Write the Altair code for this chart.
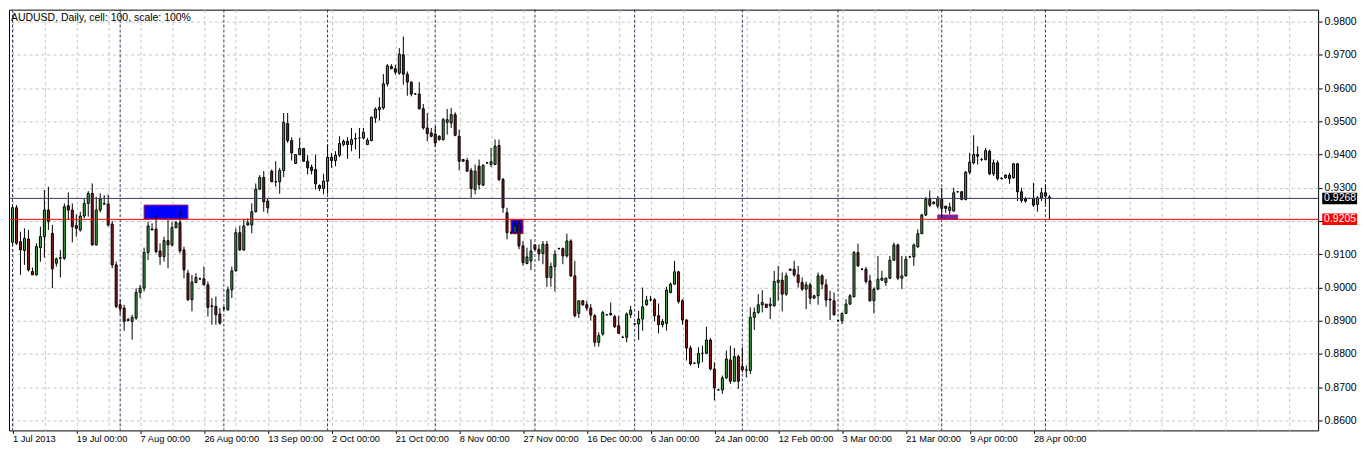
import altair as alt
import pandas as pd

# ---------------- data (daily bars, incl. Sunday bars) ----------------
opens = [
    0.9136, 0.9240, 0.9138, 0.9111, 0.9146, 0.9048, 0.9038, 0.9120, 0.9153, 0.9233,
    0.9163, 0.9073, 0.9088, 0.9088, 0.9246, 0.9233, 0.9186, 0.9173, 0.9215, 0.9253,
    0.9283, 0.9128, 0.9233, 0.9251, 0.9251, 0.9191, 0.9068, 0.8948, 0.8938, 0.8903,
    0.8898, 0.8908, 0.8985, 0.8998, 0.9105, 0.9176, 0.9176, 0.9110, 0.9093, 0.9141,
    0.9128, 0.9180, 0.9195, 0.9113, 0.9043, 0.8963, 0.9015, 0.9026, 0.9026, 0.9008,
    0.8945, 0.8943, 0.8920, 0.8938, 0.8933, 0.8993, 0.9050, 0.9165, 0.9113, 0.9188,
    0.9188, 0.9228, 0.9296, 0.9331, 0.9260, 0.9350, 0.9318, 0.9318, 0.9352, 0.9493,
    0.9442, 0.9373, 0.9400, 0.9418, 0.9380, 0.9362, 0.9355, 0.9307, 0.9298, 0.9320,
    0.9392, 0.9382, 0.9398, 0.9430, 0.9440, 0.9430, 0.9447, 0.9450, 0.9450, 0.9430,
    0.9442, 0.9510, 0.9535, 0.9540, 0.9613, 0.9665, 0.9658, 0.9645, 0.9700, 0.9642,
    0.9618, 0.9582, 0.9582, 0.9538, 0.9480, 0.9465, 0.9462, 0.9455, 0.9445, 0.9497,
    0.9495, 0.9520, 0.9455, 0.9385, 0.9382, 0.9352, 0.9295, 0.9365, 0.9308, 0.9375,
    0.9370, 0.9370, 0.9427, 0.9325, 0.9225, 0.9165, 0.9165, 0.9195, 0.9125, 0.9072,
    0.9080, 0.9128, 0.9115, 0.9102, 0.9130, 0.9030, 0.9063, 0.9117, 0.9117, 0.9095,
    0.9140, 0.9035, 0.8922, 0.8960, 0.8948, 0.8938, 0.8915, 0.8835, 0.8860, 0.8918,
    0.8922, 0.8912, 0.8885, 0.8850, 0.8850, 0.8918, 0.8890, 0.8890, 0.8905, 0.8948,
    0.8963, 0.8963, 0.8915, 0.8888, 0.8892, 0.8985, 0.9010, 0.9047, 0.8960, 0.8902,
    0.8818, 0.8772, 0.8772, 0.8802, 0.8802, 0.8842, 0.8755, 0.8692, 0.8692, 0.8728,
    0.8782, 0.8718, 0.8792, 0.8762, 0.8752, 0.8750, 0.8910, 0.8925, 0.8948, 0.8950,
    0.8945, 0.8945, 0.9015, 0.9022, 0.8980, 0.9052, 0.9055, 0.9038, 0.9015, 0.8995,
    0.9008, 0.8968, 0.8975, 0.9035, 0.9008, 0.8962, 0.8960, 0.8900, 0.8900, 0.8922,
    0.8950, 0.8972, 0.9105, 0.9055, 0.9055, 0.9020, 0.8960, 0.8995, 0.9022, 0.9015,
    0.9028, 0.9082, 0.9128, 0.9028, 0.9035, 0.9092, 0.9092, 0.9122, 0.9162, 0.9218,
    0.9265, 0.9252, 0.9245, 0.9265, 0.9245, 0.9232, 0.9230, 0.9288, 0.9288, 0.9265,
    0.9347, 0.9375, 0.9400, 0.9385, 0.9385, 0.9410, 0.9342, 0.9375, 0.9328, 0.9330,
    0.9338, 0.9330, 0.9372, 0.9288, 0.9268, 0.9268, 0.9268, 0.9250, 0.9270, 0.9285,
    0.9272,
]
highs = [
    0.9248, 0.9248, 0.9168, 0.9178, 0.9173, 0.9060, 0.9133, 0.9183, 0.9293, 0.9303,
    0.9188, 0.9090, 0.9113, 0.9253, 0.9286, 0.9253, 0.9220, 0.9228, 0.9268, 0.9290,
    0.9313, 0.9273, 0.9283, 0.9278, 0.9280, 0.9200, 0.9078, 0.8963, 0.8948, 0.8908,
    0.8918, 0.8998, 0.9008, 0.9120, 0.9198, 0.9193, 0.9216, 0.9133, 0.9153, 0.9203,
    0.9198, 0.9200, 0.9233, 0.9123, 0.9053, 0.9038, 0.9043, 0.9030, 0.9063, 0.9018,
    0.8968, 0.8973, 0.8938, 0.8943, 0.9003, 0.9063, 0.9178, 0.9186, 0.9206, 0.9208,
    0.9253, 0.9313, 0.9338, 0.9350, 0.9268, 0.9355, 0.9380, 0.9360, 0.9525, 0.9525,
    0.9452, 0.9400, 0.9450, 0.9420, 0.9398, 0.9370, 0.9400, 0.9310, 0.9342, 0.9430,
    0.9405, 0.9410, 0.9455, 0.9445, 0.9452, 0.9480, 0.9465, 0.9480, 0.9480, 0.9450,
    0.9515, 0.9542, 0.9572, 0.9642, 0.9672, 0.9672, 0.9670, 0.9720, 0.9755, 0.9650,
    0.9620, 0.9585, 0.9618, 0.9552, 0.9525, 0.9480, 0.9485, 0.9458, 0.9510, 0.9537,
    0.9540, 0.9527, 0.9475, 0.9387, 0.9390, 0.9360, 0.9370, 0.9385, 0.9370, 0.9378,
    0.9420, 0.9445, 0.9445, 0.9330, 0.9240, 0.9170, 0.9200, 0.9202, 0.9140, 0.9120,
    0.9145, 0.9130, 0.9130, 0.9140, 0.9140, 0.9075, 0.9112, 0.9120, 0.9120, 0.9162,
    0.9145, 0.9080, 0.8960, 0.8962, 0.8960, 0.8950, 0.8920, 0.8865, 0.8930, 0.8920,
    0.8955, 0.8918, 0.8915, 0.8855, 0.8925, 0.8945, 0.8893, 0.8930, 0.9000, 0.8975,
    0.8975, 0.8968, 0.8952, 0.8905, 0.9002, 0.9015, 0.9080, 0.9050, 0.8965, 0.8905,
    0.8825, 0.8775, 0.8820, 0.8825, 0.8882, 0.8848, 0.8775, 0.8695, 0.8735, 0.8810,
    0.8825, 0.8818, 0.8798, 0.8820, 0.8765, 0.8940, 0.8940, 0.8980, 0.8992, 0.8950,
    0.8970, 0.9050, 0.9065, 0.9045, 0.9045, 0.9057, 0.9080, 0.9065, 0.9030, 0.9018,
    0.9015, 0.8978, 0.9045, 0.9040, 0.9025, 0.8990, 0.8985, 0.8902, 0.8925, 0.8965,
    0.8980, 0.9110, 0.9132, 0.9058, 0.9062, 0.9038, 0.9000, 0.9095, 0.9050, 0.9030,
    0.9095, 0.9135, 0.9132, 0.9095, 0.9095, 0.9095, 0.9132, 0.9175, 0.9222, 0.9272,
    0.9292, 0.9260, 0.9275, 0.9300, 0.9245, 0.9255, 0.9300, 0.9290, 0.9290, 0.9350,
    0.9405, 0.9458, 0.9425, 0.9390, 0.9420, 0.9415, 0.9385, 0.9382, 0.9332, 0.9340,
    0.9345, 0.9375, 0.9375, 0.9300, 0.9272, 0.9270, 0.9315, 0.9275, 0.9300, 0.9310,
    0.9278,
]
lows = [
    0.9130, 0.9128, 0.9038, 0.9068, 0.9048, 0.9038, 0.9036, 0.9078, 0.9090, 0.9173,
    0.8998, 0.9063, 0.9030, 0.9083, 0.9203, 0.9136, 0.9153, 0.9168, 0.9208, 0.9213,
    0.9126, 0.9126, 0.9226, 0.9248, 0.9183, 0.9058, 0.8938, 0.8918, 0.8870, 0.8898,
    0.8843, 0.8903, 0.8968, 0.8988, 0.9083, 0.9173, 0.9103, 0.9068, 0.9078, 0.9058,
    0.9123, 0.9178, 0.9103, 0.9028, 0.8960, 0.8928, 0.9013, 0.9023, 0.9006, 0.8913,
    0.8888, 0.8888, 0.8888, 0.8930, 0.8930, 0.8968, 0.9048, 0.9110, 0.9110, 0.9186,
    0.9163, 0.9226, 0.9293, 0.9228, 0.9223, 0.9318, 0.9303, 0.9282, 0.9332, 0.9435,
    0.9382, 0.9373, 0.9398, 0.9378, 0.9340, 0.9340, 0.9295, 0.9290, 0.9280, 0.9282,
    0.9360, 0.9365, 0.9392, 0.9425, 0.9387, 0.9410, 0.9415, 0.9388, 0.9445, 0.9430,
    0.9440, 0.9495, 0.9502, 0.9535, 0.9605, 0.9658, 0.9640, 0.9640, 0.9610, 0.9577,
    0.9575, 0.9580, 0.9535, 0.9475, 0.9440, 0.9452, 0.9423, 0.9442, 0.9442, 0.9460,
    0.9480, 0.9455, 0.9352, 0.9378, 0.9348, 0.9270, 0.9280, 0.9295, 0.9305, 0.9372,
    0.9362, 0.9368, 0.9320, 0.9225, 0.9145, 0.9160, 0.9160, 0.9115, 0.9065, 0.9070,
    0.9052, 0.9112, 0.9080, 0.9070, 0.9002, 0.9002, 0.8988, 0.9114, 0.9070, 0.9090,
    0.9032, 0.8910, 0.8908, 0.8945, 0.8930, 0.8900, 0.8822, 0.8822, 0.8855, 0.8916,
    0.8915, 0.8878, 0.8860, 0.8848, 0.8835, 0.8908, 0.8887, 0.8842, 0.8870, 0.8945,
    0.8958, 0.8898, 0.8862, 0.8880, 0.8870, 0.8982, 0.9008, 0.8952, 0.8888, 0.8780,
    0.8765, 0.8770, 0.8758, 0.8775, 0.8800, 0.8750, 0.8660, 0.8690, 0.8680, 0.8725,
    0.8710, 0.8715, 0.8695, 0.8745, 0.8730, 0.8740, 0.8872, 0.8920, 0.8925, 0.8940,
    0.8905, 0.8942, 0.8960, 0.8928, 0.8975, 0.9050, 0.9032, 0.9000, 0.8990, 0.8935,
    0.8950, 0.8965, 0.8948, 0.8995, 0.8942, 0.8902, 0.8915, 0.8898, 0.8890, 0.8920,
    0.8948, 0.8970, 0.9062, 0.9052, 0.9012, 0.8957, 0.8922, 0.8992, 0.9020, 0.9005,
    0.9025, 0.9080, 0.9022, 0.8995, 0.9033, 0.9090, 0.9065, 0.9120, 0.9160, 0.9215,
    0.9242, 0.9250, 0.9238, 0.9210, 0.9225, 0.9220, 0.9228, 0.9286, 0.9262, 0.9262,
    0.9340, 0.9370, 0.9370, 0.9380, 0.9382, 0.9338, 0.9335, 0.9322, 0.9325, 0.9328,
    0.9312, 0.9328, 0.9260, 0.9255, 0.9255, 0.9266, 0.9242, 0.9228, 0.9260, 0.9250,
    0.9205,
]
closes = [
    0.9240, 0.9133, 0.9113, 0.9148, 0.9053, 0.9038, 0.9123, 0.9153, 0.9233, 0.9198,
    0.9056, 0.9086, 0.9090, 0.9243, 0.9233, 0.9183, 0.9178, 0.9215, 0.9253, 0.9283,
    0.9128, 0.9233, 0.9266, 0.9253, 0.9188, 0.9068, 0.8943, 0.8936, 0.8898, 0.8901,
    0.8910, 0.8985, 0.8998, 0.9105, 0.9185, 0.9173, 0.9108, 0.9093, 0.9141, 0.9128,
    0.9180, 0.9195, 0.9110, 0.9053, 0.8963, 0.9016, 0.9030, 0.9026, 0.9008, 0.8940,
    0.8943, 0.8918, 0.8893, 0.8938, 0.8993, 0.9050, 0.9165, 0.9113, 0.9185, 0.9195,
    0.9228, 0.9296, 0.9331, 0.9258, 0.9240, 0.9318, 0.9318, 0.9352, 0.9497, 0.9442,
    0.9405, 0.9400, 0.9418, 0.9380, 0.9360, 0.9352, 0.9312, 0.9298, 0.9320, 0.9392,
    0.9382, 0.9398, 0.9433, 0.9440, 0.9430, 0.9445, 0.9448, 0.9450, 0.9467, 0.9443,
    0.9512, 0.9537, 0.9542, 0.9613, 0.9667, 0.9658, 0.9648, 0.9702, 0.9642, 0.9618,
    0.9582, 0.9582, 0.9538, 0.9480, 0.9463, 0.9455, 0.9435, 0.9445, 0.9505, 0.9505,
    0.9520, 0.9458, 0.9380, 0.9380, 0.9350, 0.9298, 0.9350, 0.9310, 0.9368, 0.9375,
    0.9378, 0.9425, 0.9325, 0.9240, 0.9165, 0.9165, 0.9185, 0.9125, 0.9075, 0.9092,
    0.9110, 0.9115, 0.9102, 0.9130, 0.9030, 0.9063, 0.9100, 0.9117, 0.9095, 0.9140,
    0.9035, 0.8915, 0.8960, 0.8948, 0.8938, 0.8917, 0.8835, 0.8855, 0.8925, 0.8918,
    0.8918, 0.8882, 0.8862, 0.8850, 0.8920, 0.8932, 0.8890, 0.8905, 0.8942, 0.8962,
    0.8963, 0.8915, 0.8888, 0.8898, 0.8992, 0.9010, 0.9047, 0.8958, 0.8902, 0.8818,
    0.8770, 0.8772, 0.8802, 0.8802, 0.8842, 0.8755, 0.8698, 0.8692, 0.8728, 0.8785,
    0.8718, 0.8792, 0.8718, 0.8752, 0.8752, 0.8910, 0.8925, 0.8948, 0.8955, 0.8940,
    0.8950, 0.9018, 0.9022, 0.8980, 0.9035, 0.9055, 0.9038, 0.9015, 0.8995, 0.9008,
    0.8968, 0.8975, 0.9035, 0.9010, 0.8962, 0.8965, 0.8918, 0.8900, 0.8922, 0.8950,
    0.8975, 0.9105, 0.9065, 0.9055, 0.9018, 0.8960, 0.8995, 0.9025, 0.9028, 0.9028,
    0.9082, 0.9128, 0.9028, 0.9035, 0.9085, 0.9092, 0.9128, 0.9162, 0.9218, 0.9265,
    0.9248, 0.9257, 0.9268, 0.9238, 0.9238, 0.9242, 0.9285, 0.9288, 0.9265, 0.9347,
    0.9377, 0.9400, 0.9395, 0.9385, 0.9412, 0.9342, 0.9375, 0.9328, 0.9328, 0.9338,
    0.9328, 0.9372, 0.9288, 0.9262, 0.9260, 0.9268, 0.9248, 0.9270, 0.9285, 0.9275,
    0.9268,
]

x_tick_labels = [
    "1 Jul 2013", "19 Jul 00:00", "7 Aug 00:00", "26 Aug 00:00", "13 Sep 00:00",
    "2 Oct 00:00", "21 Oct 00:00", "8 Nov 00:00", "27 Nov 00:00", "16 Dec 00:00",
    "6 Jan 00:00", "24 Jan 00:00", "12 Feb 00:00", "3 Mar 00:00", "21 Mar 00:00",
    "9 Apr 00:00", "28 Apr 00:00",
]
y_ticks = [0.86, 0.87, 0.88, 0.89, 0.90, 0.91, 0.92, 0.93, 0.94, 0.95, 0.96, 0.97, 0.98]
month_separator_bars = [0, 27, 53, 79, 106, 131, 156, 183, 207, 233, 259]

zone_names = ["Aug zone", "Nov zone", "Mar zone"]
zone_start = [33, 125, 232]
zone_end = [44, 128, 237]
zone_low = [0.9206, 0.9162, 0.9205]
zone_high = [0.9248, 0.9203, 0.9218]

level_names = ["bid", "support"]
level_prices = [0.9268, 0.9205]
level_labels = ["0.9268", "0.9205"]

chart_title = "AUDUSD, Daily, cell: 100, scale: 100%"

# ---------------- tables ----------------
n = len(opens)
bars = pd.DataFrame({
    "i": list(range(n)),
    "o": opens,
    "c": closes,
    "h": [max(a, b, c) for a, b, c in zip(highs, opens, closes)],
    "l": [min(a, b, c) for a, b, c in zip(lows, opens, closes)],
})

zones = pd.DataFrame({"zone": zone_names, "x1": zone_start, "x2": zone_end,
                      "lo": zone_low, "hi": zone_high})
seps = pd.DataFrame({"bar": month_separator_bars})
levels = pd.DataFrame({"name": level_names, "price": level_prices, "label": level_labels})
title_df = pd.DataFrame({"t": [chart_title]})

# ---------------- scales / axes ----------------
W, H = 1313, 422
xscale = alt.Scale(domain=[-0.875, 327.375], nice=False, zero=False, padding=0)
yscale = alt.Scale(domain=[0.857, 0.9836], nice=False, zero=False, padding=0)

GRID = "#c4c4c4"
label_array = "[" + ",".join("'" + s + "'" for s in x_tick_labels) + "]"
x_label_expr = (f"(datum.value % 16 == 0 && datum.value / 16 < {len(x_tick_labels)}) ? "
                f"{label_array}[datum.value / 16] : ''")

xaxis = alt.Axis(
    values=list(range(0, 328, 8)), labelExpr=x_label_expr, title=None,
    grid=True, gridColor=GRID, gridDash=[3, 3], gridWidth=1,
    domain=False, ticks=True, tickSize=3, tickColor="black",
    tickOpacity={"condition": {"test": f"datum.value % 16 != 0 || datum.value / 16 >= {len(x_tick_labels)}",
                               "value": 0}, "value": 1},
    labelAlign="left", labelBaseline="top", labelPadding=1, labelOffset=0,
    labelFont="Liberation Sans", labelFontSize=9.3, labelColor="black",
    labelOverlap=False, labelFlush=False,
)
yaxis = alt.Axis(
    orient="right", values=y_ticks, format=".4f", title=None,
    grid=True, gridColor=GRID, gridDash=[3, 3], gridWidth=1,
    domain=False, ticks=True, tickSize=4, tickColor="black",
    labelFont="Liberation Sans", labelFontSize=10.5, labelColor="black",
    labelPadding=2, labelOverlap=False, labelFlush=False,
)


def X(field):
    return alt.X(field, type="quantitative", scale=xscale, axis=xaxis)


def Y(field):
    return alt.Y(field, type="quantitative", scale=yscale, axis=yaxis)


# ---------------- layers ----------------
zone_layer = alt.Chart(zones).mark_rect(strokeWidth=1, opacity=1).encode(
    x=X("x1"), x2="x2", y=Y("lo"), y2="hi",
    fill=alt.condition("datum.zone == 'Mar zone'", alt.value("#6a2bb0"), alt.value("#0000ff")),
    stroke=alt.condition("datum.zone == 'Nov zone'", alt.value("#ff0000"),
                         alt.value("#b0186a")),
)

sep_layer = alt.Chart(seps).mark_rule(color="#34345e", strokeDash=[3, 2], strokeWidth=1).encode(
    x=X("bar"),
)

wick_layer = alt.Chart(bars).mark_rule(color="black", strokeWidth=1).encode(
    x=X("i"), y=Y("l"), y2="h",
)

body_layer = alt.Chart(bars).mark_bar(size=2, stroke="black", strokeWidth=1).encode(
    x=X("i"), y=Y("o"), y2="c",
    fill=alt.condition("datum.c >= datum.o", alt.value("#3fab45"), alt.value("#8e1c1c")),
)

level_layer = alt.Chart(levels).mark_rule(strokeWidth=1).encode(
    y=Y("price"),
    color=alt.condition("datum.name == 'bid'", alt.value("#3c3c66"), alt.value("#ff0000")),
)

box_shape = "M-1,-0.33L1,-0.33L1,0.33L-1,0.33Z"
level_box = alt.Chart(levels).mark_point(shape=box_shape, filled=True, size=1225,
                                         opacity=1, strokeWidth=0).encode(
    x=alt.value(W + 21.6), y=Y("price"),
    fill=alt.condition("datum.name == 'bid'", alt.value("#000000"), alt.value("#ff0000")),
)
level_text = alt.Chart(levels).mark_text(align="left", baseline="middle", color="white",
                                         font="Liberation Sans", fontSize=10.5).encode(
    x=alt.value(W + 6), y=Y("price"), text="label:N",
)

title_layer = alt.Chart(title_df).mark_text(align="left", baseline="alphabetic", color="black",
                                            font="Liberation Sans", fontSize=10.5).encode(
    x=alt.value(2), y=alt.value(11), text="t:N",
)

chart = alt.layer(
    zone_layer, sep_layer, wick_layer, body_layer, level_layer,
    level_box, level_text, title_layer,
).properties(
    width=W, height=H, padding=0, background="white",
).configure_view(
    stroke="black", strokeWidth=1,
)

chart.save("out.html", embed_options={"renderer": "svg", "actions": False})
